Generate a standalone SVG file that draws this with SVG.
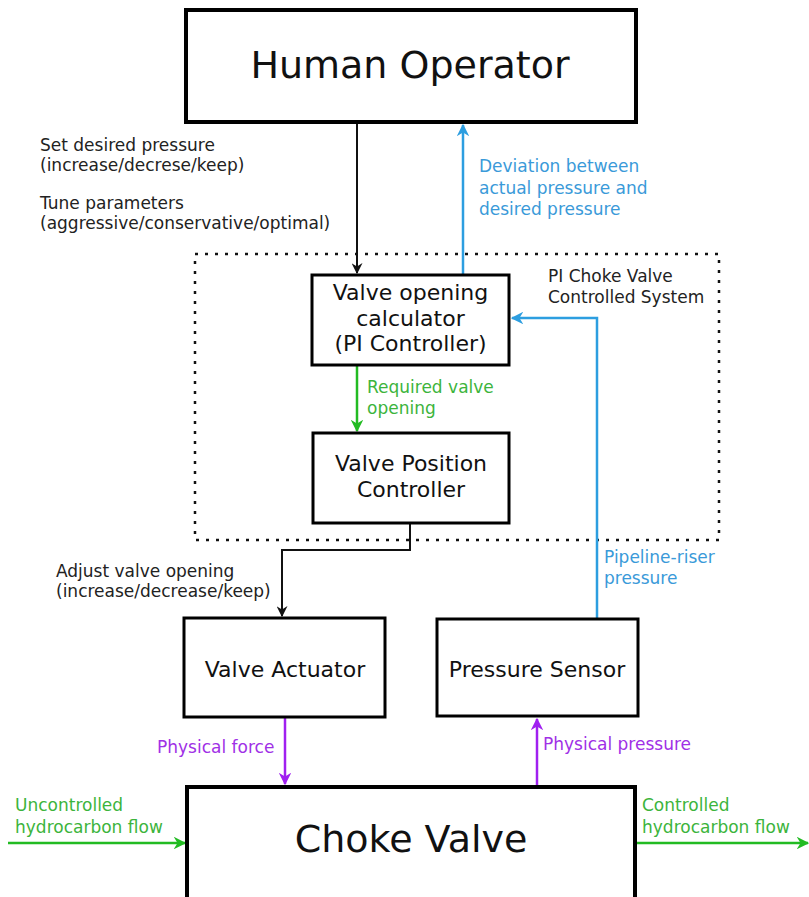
<svg xmlns="http://www.w3.org/2000/svg" width="809" height="897" viewBox="0 0 809 897">
  <style>
    .box { fill: #ffffff; stroke: #000000; stroke-width: 3; }
    .big { fill: #ffffff; stroke: #000000; stroke-width: 4; }
    .node { font-family: "DejaVu Sans", Verdana, sans-serif; font-size: 22px; fill: #111111; text-anchor: middle; }
    .title { font-family: "DejaVu Sans", Verdana, sans-serif; font-size: 38px; fill: #111111; text-anchor: middle; }
    .lbl { font-family: "DejaVu Sans", Verdana, sans-serif; font-size: 17px; }
    .k { fill: #222222; }
    .b { fill: #3a9ad9; }
    .g { fill: #3cb43c; }
    .p { fill: #a030e6; }
    .wk { stroke: #111111; stroke-width: 2; fill: none; }
    .wb { stroke: #2d9ee0; stroke-width: 2.5; fill: none; }
    .wg { stroke: #22bb22; stroke-width: 2.5; fill: none; }
    .wp { stroke: #a020f0; stroke-width: 2.5; fill: none; }
  </style>
  <defs>
    <marker id="ak" viewBox="0 0 10 10" refX="9" refY="5" markerWidth="5.5" markerHeight="5.5" markerUnits="strokeWidth" orient="auto">
      <path d="M0,0 L10,5 L0,10 L3,5 z" fill="#111111"/>
    </marker>
    <marker id="ab" viewBox="0 0 10 10" refX="9" refY="5" markerWidth="5" markerHeight="5" markerUnits="strokeWidth" orient="auto">
      <path d="M0,0 L10,5 L0,10 L3,5 z" fill="#2d9ee0"/>
    </marker>
    <marker id="ag" viewBox="0 0 10 10" refX="9" refY="5" markerWidth="5" markerHeight="5" markerUnits="strokeWidth" orient="auto">
      <path d="M0,0 L10,5 L0,10 L3,5 z" fill="#22bb22"/>
    </marker>
    <marker id="ap" viewBox="0 0 10 10" refX="9" refY="5" markerWidth="5" markerHeight="5" markerUnits="strokeWidth" orient="auto">
      <path d="M0,0 L10,5 L0,10 L3,5 z" fill="#a020f0"/>
    </marker>
  </defs>

  <rect width="809" height="897" fill="#ffffff"/>

  <!-- system boundary -->
  <g id="pi-system-boundary">
    <rect x="195" y="254" width="524" height="286" fill="none" stroke="#111111" stroke-width="2.5" stroke-dasharray="3 7"/>
    <text class="lbl k" x="548" y="282">PI Choke Valve</text>
    <text class="lbl k" x="548" y="303">Controlled System</text>
  </g>

  <!-- connectors -->
  <g id="connectors">
    <line class="wk" x1="357" y1="123" x2="357" y2="273" marker-end="url(#ak)"/>
    <line class="wb" x1="463" y1="275" x2="463" y2="125" marker-end="url(#ab)"/>
    <polyline class="wb" points="597,619 597,318 512,318" marker-end="url(#ab)"/>
    <line class="wg" x1="357" y1="366" x2="357" y2="431" marker-end="url(#ag)"/>
    <polyline class="wk" points="410,524 410,550 282,550 282,616" marker-end="url(#ak)"/>
    <line class="wp" x1="285" y1="718" x2="285" y2="784" marker-end="url(#ap)"/>
    <line class="wp" x1="537" y1="786" x2="537" y2="719" marker-end="url(#ap)"/>
    <line class="wg" x1="8" y1="843" x2="185" y2="843" marker-end="url(#ag)"/>
    <line class="wg" x1="637" y1="843" x2="808" y2="843" marker-end="url(#ag)"/>

    <text class="lbl k" x="40" y="151">Set desired pressure</text>
    <text class="lbl k" x="40" y="171">(increase/decrese/keep)</text>
    <text class="lbl k" x="40" y="209">Tune parameters</text>
    <text class="lbl k" x="40" y="229">(aggressive/conservative/optimal)</text>

    <text class="lbl b" x="479" y="172">Deviation between</text>
    <text class="lbl b" x="479" y="194">actual pressure and</text>
    <text class="lbl b" x="479" y="215">desired pressure</text>

    <text class="lbl g" x="367" y="393">Required valve</text>
    <text class="lbl g" x="367" y="414">opening</text>

    <text class="lbl k" x="56" y="577">Adjust valve opening</text>
    <text class="lbl k" x="56" y="597">(increase/decrease/keep)</text>

    <text class="lbl b" x="604" y="563">Pipeline-riser</text>
    <text class="lbl b" x="604" y="584">pressure</text>

    <text class="lbl p" x="157" y="753">Physical force</text>
    <text class="lbl p" x="543" y="750">Physical pressure</text>

    <text class="lbl g" x="15" y="811">Uncontrolled</text>
    <text class="lbl g" x="15" y="833">hydrocarbon flow</text>
    <text class="lbl g" x="642" y="811">Controlled</text>
    <text class="lbl g" x="642" y="833">hydrocarbon flow</text>
  </g>

  <!-- nodes -->
  <g id="human-operator">
    <rect class="big" x="186" y="10" width="450" height="112"/>
    <text class="title" x="410" y="78">Human Operator</text>
  </g>

  <g id="valve-opening-calculator">
    <rect class="box" x="312" y="275" width="197" height="90"/>
    <text class="node" x="410.5" y="300">Valve opening</text>
    <text class="node" x="410.5" y="326">calculator</text>
    <text class="node" x="410.5" y="351">(PI Controller)</text>
  </g>

  <g id="valve-position-controller">
    <rect class="box" x="313" y="433" width="196" height="90"/>
    <text class="node" x="411" y="471">Valve Position</text>
    <text class="node" x="411" y="497">Controller</text>
  </g>

  <g id="valve-actuator">
    <rect class="box" x="184" y="618" width="201" height="99"/>
    <text class="node" x="285" y="677">Valve Actuator</text>
  </g>

  <g id="pressure-sensor">
    <rect class="box" x="437" y="619" width="201" height="97"/>
    <text class="node" x="537" y="677">Pressure Sensor</text>
  </g>

  <g id="choke-valve">
    <rect class="big" x="187" y="787" width="448" height="130"/>
    <text class="title" x="411" y="852">Choke Valve</text>
  </g>
</svg>
